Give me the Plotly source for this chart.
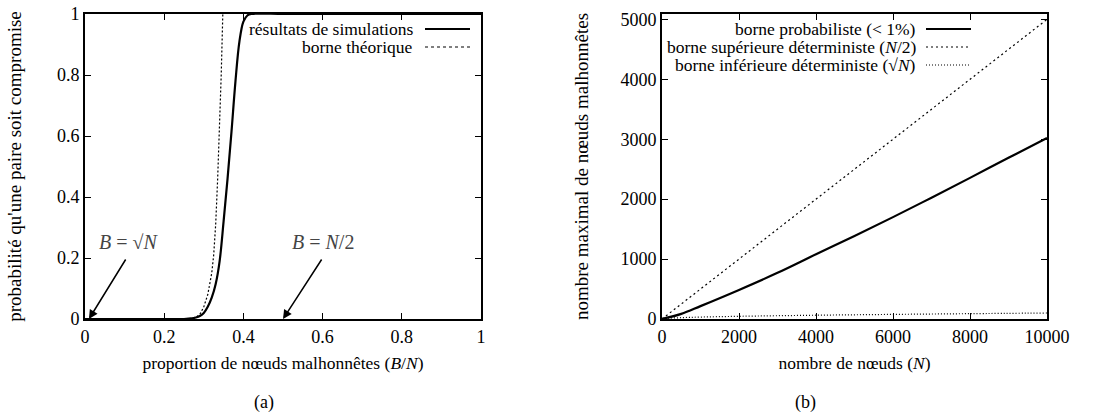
import plotly.graph_objects as go

# ---------------- data: panel (a) ----------------
sim_x = [0.0, 0.1, 0.2, 0.25, 0.27, 0.28, 0.29, 0.30, 0.31, 0.32, 0.33, 0.34,
         0.35, 0.36, 0.37, 0.38, 0.39, 0.40, 0.41, 0.42, 0.5, 0.6, 0.8, 1.0]
sim_y = [0.0, 0.0, 0.0, 0.0, 0.002, 0.005, 0.01, 0.02, 0.04, 0.07, 0.115, 0.19,
         0.32, 0.46, 0.615, 0.78, 0.91, 0.975, 0.995, 1.0, 1.0, 1.0, 1.0, 1.0]

theo_x = [0.0, 0.2, 0.26, 0.27, 0.28, 0.29, 0.30, 0.31, 0.32, 0.325, 0.33,
          0.335, 0.34, 0.344, 0.348]
theo_y = [0.0, 0.0, 0.001, 0.003, 0.006, 0.015, 0.04, 0.08, 0.15, 0.21, 0.31,
          0.46, 0.62, 0.8, 1.0]

# ---------------- data: panel (b) ----------------
n_prob = [0, 500, 1000, 2000, 3000, 4000, 5000, 6000, 7000, 8000, 9000, 10000]
b_prob = [0, 85, 215, 485, 770, 1080, 1385, 1700, 2025, 2355, 2690, 3020]

n_half = [0, 10000]
b_half = [0, 5000]

n_sqrt = [0, 100, 500, 1000, 2000, 4000, 6000, 8000, 10000]
b_sqrt = [0, 10, 22, 32, 45, 63, 77, 89, 100]

xa_ticks = [0, 0.2, 0.4, 0.6, 0.8, 1]
xa_text = ["0", "0.2", "0.4", "0.6", "0.8", "1"]
ya_ticks = [0, 0.2, 0.4, 0.6, 0.8, 1]
ya_text = ["0", "0.2", "0.4", "0.6", "0.8", "1"]
xb_ticks = [0, 2000, 4000, 6000, 8000, 10000]
xb_text = ["0", "2000", "4000", "6000", "8000", "10000"]
yb_ticks = [0, 1000, 2000, 3000, 4000, 5000]
yb_text = ["0", "1000", "2000", "3000", "4000", "5000"]

FONT = "Liberation Serif, Times New Roman, DejaVu Serif, serif"
W, H = 1109, 414

fig = go.Figure()

fig.add_trace(go.Scatter(x=theo_x, y=theo_y, mode="lines", name="borne théorique",
                         line=dict(color="black", width=1.2, dash="2px,2px"),
                         xaxis="x", yaxis="y", showlegend=False))
fig.add_trace(go.Scatter(x=sim_x, y=sim_y, mode="lines", name="résultats de simulations",
                         line=dict(color="black", width=2.2, shape="spline"),
                         xaxis="x", yaxis="y", showlegend=False))

fig.add_trace(go.Scatter(x=n_half, y=b_half, mode="lines",
                         name="borne supérieure déterministe (N/2)",
                         line=dict(color="black", width=1.2, dash="2px,3px"),
                         xaxis="x2", yaxis="y2", showlegend=False))
fig.add_trace(go.Scatter(x=n_sqrt, y=b_sqrt, mode="lines",
                         name="borne inférieure déterministe (√N)",
                         line=dict(color="black", width=1.2, dash="1px,2px", shape="spline"),
                         xaxis="x2", yaxis="y2", showlegend=False))
fig.add_trace(go.Scatter(x=n_prob, y=b_prob, mode="lines",
                         name="borne probabiliste (< 1%)",
                         line=dict(color="black", width=2.2, shape="spline"),
                         xaxis="x2", yaxis="y2", showlegend=False))

def px_x(p):
    return p / W

def px_y(p):
    return 1 - p / H

axis_common = dict(showline=True, linecolor="black", linewidth=2, mirror="ticks",
                   ticks="inside", ticklen=6, tickwidth=1, tickcolor="black",
                   showgrid=False, zeroline=False, automargin=False,
                   ticklabeloverflow="allow",
                   tickfont=dict(family=FONT, size=18, color="black"),
                   tickmode="array")

ydom = [px_y(319), px_y(14)]
TXT = 17.5

fig.update_layout(
    width=W, height=H,
    margin=dict(l=0, r=0, t=0, b=0, autoexpand=False),
    paper_bgcolor="white", plot_bgcolor="white",
    font=dict(family=FONT, size=TXT, color="black"),
    xaxis=dict(axis_common, domain=[px_x(85), px_x(481)], range=[0, 1], anchor="y",
               tickvals=xa_ticks, ticktext=xa_text,
               title=dict(text="proportion de nœuds malhonnêtes (<i>B</i>/<i>N</i>)",
                          font=dict(family=FONT, size=TXT), standoff=11)),
    yaxis=dict(axis_common, domain=ydom, range=[0, 1], anchor="x",
               tickvals=ya_ticks, ticktext=ya_text,
               title=dict(text="probabilité qu'une paire soit compromise",
                          font=dict(family=FONT, size=19), standoff=30)),
    xaxis2=dict(axis_common, domain=[px_x(662), px_x(1047)], range=[0, 10000], anchor="y2",
                tickvals=xb_ticks, ticktext=xb_text,
                title=dict(text="nombre de nœuds (<i>N</i>)",
                           font=dict(family=FONT, size=TXT), standoff=11)),
    yaxis2=dict(axis_common, domain=ydom, range=[0, 5090], anchor="x2",
                tickvals=yb_ticks, ticktext=yb_text,
                title=dict(text="nombre maximal de nœuds malhonnêtes",
                           font=dict(family=FONT, size=19), standoff=27)),
)

# arrows and math labels (panel a)
fig.add_annotation(x=0.01, y=0, ax=0.105, ay=0.2, xref="x", yref="y", axref="x", ayref="y",
                   text="", showarrow=True, arrowhead=2, arrowsize=1.2, arrowwidth=1.5,
                   arrowcolor="black")
fig.add_annotation(x=0.5, y=0, ax=0.6, ay=0.2, xref="x", yref="y", axref="x", ayref="y",
                   text="", showarrow=True, arrowhead=2, arrowsize=1.2, arrowwidth=1.5,
                   arrowcolor="black")
fig.add_annotation(x=0.11, y=0.252, xref="x", yref="y", showarrow=False,
                   text="<i>B</i> = √<i>N</i>", font=dict(family=FONT, size=20, color="#444"))
fig.add_annotation(x=0.6, y=0.252, xref="x", yref="y", showarrow=False,
                   text="<i>B</i> = <i>N</i>/2", font=dict(family=FONT, size=20, color="#444"))

# legends drawn gnuplot-style (text right-aligned, sample on the right)
legend_a = [("résultats de simulations", 29, dict(width=2.2)),
            ("borne théorique", 47, dict(width=1.2, dash="dot"))]
for txt, yy, st in legend_a:
    fig.add_annotation(x=px_x(415), y=px_y(yy), xref="paper", yref="paper",
                       xanchor="right", yanchor="middle", showarrow=False, text=txt,
                       font=dict(family=FONT, size=TXT))
    fig.add_shape(type="line", xref="paper", yref="paper",
                  x0=px_x(425), x1=px_x(470), y0=px_y(yy), y1=px_y(yy),
                  line=dict(color="black", **st))

legend_b = [("borne probabiliste (&lt; 1%)", 29, dict(width=2.2)),
            ("borne supérieure déterministe (<i>N</i>/2)", 47, dict(width=1.2, dash="2px,3px")),
            ("borne inférieure déterministe (√<i>N</i>)", 65, dict(width=1.2, dash="1px,2px"))]
for txt, yy, st in legend_b:
    fig.add_annotation(x=px_x(918), y=px_y(yy), xref="paper", yref="paper",
                       xanchor="right", yanchor="middle", showarrow=False, text=txt,
                       font=dict(family=FONT, size=TXT))
    fig.add_shape(type="line", xref="paper", yref="paper",
                  x0=px_x(926), x1=px_x(971), y0=px_y(yy), y1=px_y(yy),
                  line=dict(color="black", **st))

# sub-figure captions
fig.add_annotation(x=px_x(252), y=px_y(402), xref="paper", yref="paper", showarrow=False,
                   text="(a)", font=dict(family=FONT, size=18), yanchor="middle")
fig.add_annotation(x=px_x(818), y=px_y(402), xref="paper", yref="paper", showarrow=False,
                   text="(b)", font=dict(family=FONT, size=18), yanchor="middle")

# remove the default 8px page margin so the figure fills the window exactly
fig.write_html("out.html",
               config={"displayModeBar": False},
               post_script="document.body.style.margin='0';")
